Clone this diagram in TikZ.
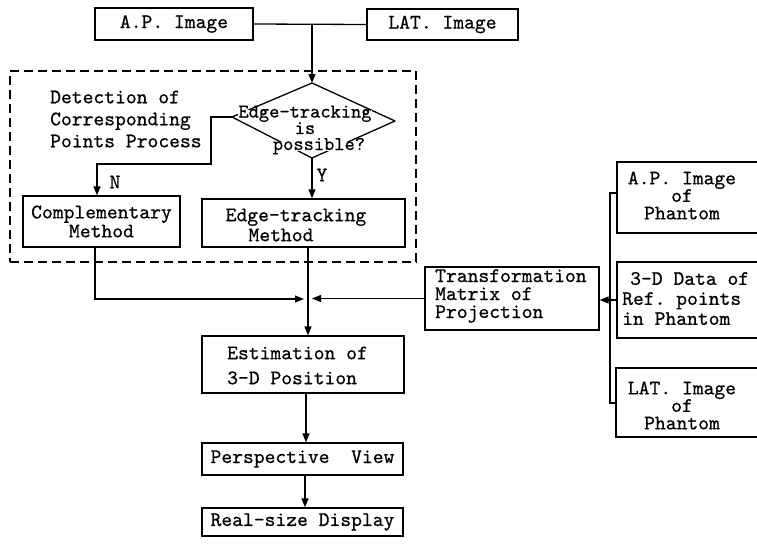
\documentclass[tikz,border=0pt]{standalone}
\usepackage{fontspec}
\setmonofont{lmmono10-regular.otf}[FakeBold=0.6]
\usetikzlibrary{arrows.meta}
\newcommand\tyf[1]{\ttfamily\fontsize{20.6pt}{#1pt}\selectfont}
\tikzset{
  box/.style={draw, line width=1.3pt, inner sep=0pt, align=center, font=\tyf{20}},
  txt/.style={inner sep=0pt, align=center, font=\tyf{#1}},
  txt/.default=20,
  mask/.style={inner sep=0pt, fill=white, anchor=base, text height=8pt, text depth=1pt, font=\ttfamily\fontsize{19.5pt}{19.5pt}\selectfont},
  ln/.style={line width=1.3pt},
  arr/.style={line width=1.3pt, -{Triangle[length=9pt,width=7pt]}},
  grpbox/.style={draw, line width=1.3pt, dash pattern=on 9pt off 5pt, inner sep=0pt}
}
\begin{document}
\begin{tikzpicture}[x=1pt,y=-1pt]
\useasboundingbox (0,0) rectangle (757,546);
\clip (0,0) rectangle (757,546);

% top inputs
\node[box, minimum width=158pt, minimum height=32pt] (ap) at (174,24) {A.P. Image};
\node[box, minimum width=151pt, minimum height=31pt] (lat) at (442.5,24.5) {LAT. Image};

% dashed group
\node[grpbox, minimum width=406pt, minimum height=191pt] (grp) at (213,166.5) {};
\node[txt=22, align=left, anchor=west] (det) at (50,119) {Detection of\\Corresponding\\Points Process};

% decision diamond
\coordinate (dtop) at (312,83);
\coordinate (dleft) at (232,117);
\coordinate (dbot) at (312,158);
\coordinate (dright) at (395,121);
\draw[ln, line join=round] (dtop) -- (dright) -- (dbot) -- (dleft) -- cycle;
\node[mask] (e1) at (305,117.5) {Edge-tracking};
\node[mask] (e2) at (305,134) {is};
\node[mask] (e3) at (319,150) {possible?};

\node[txt] (lN) at (115,182) {N};
\node[txt] (lY) at (322,175) {Y};

% methods
\node[box, minimum width=157pt, minimum height=51pt, font=\tyf{19}] (comp) at (101.5,221.5) {Complementary\\Method};
\node[box, minimum width=203pt, minimum height=48pt] (et) at (303.5,223) {};
\node[txt=20] (etx) at (296,225) {Edge-tracking\\Method\hspace*{30pt}};

% estimation and below
\node[box, minimum width=202pt, minimum height=57pt] (est) at (303,364.5) {};
\node[txt=25, align=left, anchor=west] (estx) at (227,365.5) {Estimation of\\3-D Position};
\node[box, minimum width=201pt, minimum height=32pt] (persp) at (302.5,459) {Perspective\ \ View};
\node[box, minimum width=201pt, minimum height=28pt] (real) at (302.5,522) {Real-size Display};

% transformation
\node[box, minimum width=174pt, minimum height=63pt] (trans) at (512,298.5) {};
\node[txt=18, align=left, anchor=west] (transx) at (435,296) {Transformation\\Matrix of\\Projection};

% phantom inputs
\node[box, minimum width=153pt, minimum height=71pt] (ap2) at (693.5,197.5) {};
\node[txt=17.5] (ap2x) at (682,195.5) {A.P. Image\\of\hspace*{22pt}\\Phantom};
\node[box, minimum width=153pt, minimum height=76pt] (data) at (693.5,300) {};
\node[txt=20, align=left, anchor=west] (datax) at (622,298.5) {\hspace*{8pt}3-D Data of\\Ref. points\\in Phantom};
\node[box, minimum width=154pt, minimum height=69pt] (lat2) at (693,402.5) {};
\node[txt=17.5] (lat2x) at (682,405.5) {LAT. Image\\of\hspace*{28pt}\\Phantom};

% connectors
\coordinate (jt) at (312,24);
\draw[ln] (ap.east) -- (lat.west);
\draw[arr] (jt) -- (dtop);

\coordinate (c1) at (211,117);
\coordinate (c2) at (211,164);
\coordinate (c3) at (97,164);
\draw[arr] (dleft) -- (c1) -- (c2) -- (c3) -- (c3 |- comp.north);
\draw[arr] (dbot) -- (dbot |- et.north);

\coordinate (cl) at (95,299);
\coordinate (jl) at (304,299);
\coordinate (mx) at (308,299);
\coordinate (jr) at (312,299);
\draw[arr] (cl |- comp.south) -- (cl) -- (jl);
\draw[arr] (trans.west) -- (trans.west -| jr);
\draw[arr] (mx |- et.south) -- (mx |- est.north);

\coordinate (m2) at (306,0);
\coordinate (m3) at (305,0);
\draw[arr] (m2 |- est.south) -- (m2 |- persp.north);
\draw[arr] (m3 |- persp.south) -- (m3 |- real.north);

\coordinate (b1) at (610,193);
\coordinate (b2) at (610,403);
\draw[ln] (ap2.west |- b1) -- (b1) -- (b2) -- (b2 -| lat2.west);
\draw[arr] (data.west) -- (data.west -| trans.east);
\end{tikzpicture}
\end{document}
